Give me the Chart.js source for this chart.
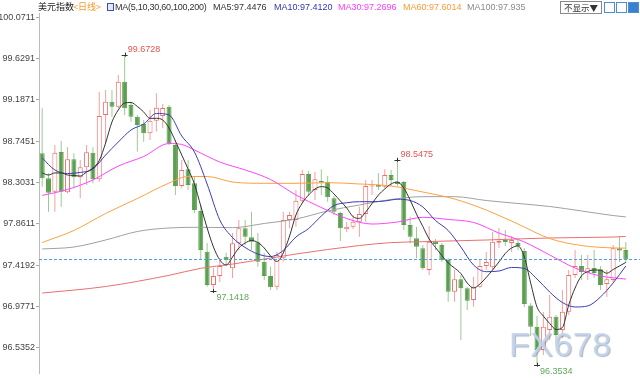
<!DOCTYPE html>
<html><head><meta charset="utf-8">
<script src="https://cdn.jsdelivr.net/npm/chart.js"></script>
<style>
html,body{margin:0;padding:0;background:#fff;}
#wrap{position:relative;width:640px;height:380px;overflow:hidden;font-family:'Liberation Sans',Arial,'Noto Sans CJK SC',sans-serif;}
#c{position:absolute;left:0;top:0;}
#hdr{position:absolute;left:0;top:0;width:640px;height:13px;background:#fff;}
#hdr span{position:absolute;top:1px;font-size:9px;line-height:12px;white-space:nowrap;}
#hdr .ico{top:3px;width:5px;height:6px;border:1px solid #3b4fae;background:#e3e7ff;}
#hdr #dd{left:560px;top:1px;width:40px;height:11px;line-height:11px;border:1px solid #8a8a8a;color:#333;text-align:center;font-family:'Noto Sans CJK SC',sans-serif;font-size:8.5px;}
#hdr .ib{top:2px;width:9px;height:9px;border:1px solid #4a8fd8;background:#fff;}
#hdr .ib.f{background:#3a7fd0;}
#wm{position:absolute;left:509px;top:325px;font-family:'Liberation Sans',Arial,sans-serif;font-size:34px;color:rgba(196,213,236,0.9);text-shadow:1px 1px 1px rgba(110,120,140,0.55);letter-spacing:0.5px;}
</style></head>
<body>
<div id="wrap">
<canvas id="c" width="640" height="380"></canvas>
<div id="hdr">
<span style="left:38px;color:#222;font-family:'Noto Sans CJK SC',sans-serif">美元指数</span>
<span style="left:73px;color:#f39a2c;font-family:'Noto Sans CJK SC',sans-serif">&lt;日线&gt;</span>
<span class="ico" style="left:107px"></span>
<span style="left:115px;color:#333;letter-spacing:-0.25px">MA(5,10,30,60,100,200)</span>
<span style="left:213px;color:#333">MA5:97.4476</span>
<span style="left:274px;color:#3434b4">MA10:97.4120</span>
<span style="left:338px;color:#ff3cff">MA30:97.2696</span>
<span style="left:403px;color:#ff9b35">MA60:97.6014</span>
<span style="left:467px;color:#8a8a8a">MA100:97.935</span>
<span id="dd">不显示▼</span>
<span class="ib" style="left:604px"></span>
<span class="ib" style="left:616px"></span>
<span class="ib f" style="left:628px"></span>
</div>
<div id="wm">FX678</div>
</div>
<script>
// ---- data ----
const opens = [98.617,98.349,98.205,98.630,98.199,98.552,98.359,98.466,98.623,98.338,
99.026,99.169,99.115,99.383,99.133,99.008,98.930,98.831,98.966,99.016,
99.115,98.705,98.266,98.445,98.295,97.999,97.563,97.206,97.303,97.509,
97.385,97.653,97.813,97.717,97.663,97.456,97.303,97.188,97.492,97.902,
97.902,98.109,98.395,98.224,98.323,98.312,98.135,97.977,97.803,97.831,
97.884,97.966,98.261,98.277,98.259,98.384,98.312,98.309,97.849,97.706,
97.599,97.367,97.670,97.635,97.474,97.135,97.267,97.171,97.046,97.188,
97.410,97.396,97.659,97.688,97.656,97.656,97.570,96.987,96.760,96.510,
96.725,96.867,96.725,96.920,97.313,97.410,97.332,97.388,97.374,97.217,
97.260,97.599,97.581];
const highs = [99.098,98.402,98.705,98.748,98.681,98.617,98.545,98.705,98.681,99.276,
99.294,99.294,99.455,99.6728,99.169,99.026,98.973,99.080,99.259,99.144,
99.133,98.759,98.545,98.545,98.373,98.063,97.656,97.388,97.495,97.552,
97.763,97.902,97.902,97.991,97.763,97.549,97.402,97.563,97.991,97.991,
98.224,98.438,98.427,98.419,98.445,98.373,98.159,97.991,97.881,97.956,
98.045,98.331,98.331,98.402,98.445,98.438,98.5475,98.320,97.938,97.831,
97.635,97.838,97.699,97.656,97.495,97.367,97.313,97.188,97.295,97.485,
97.560,97.774,97.817,97.795,97.731,97.688,97.602,97.013,96.874,96.917,
97.099,96.885,97.153,97.367,97.581,97.528,97.528,97.581,97.410,97.367,
97.635,97.731,97.667];
const lows = [98.259,97.990,97.990,98.045,98.188,98.242,98.135,98.277,98.295,98.312,
98.723,99.008,99.098,99.026,98.955,98.633,98.741,98.759,98.848,98.887,
98.705,98.170,98.242,98.224,97.977,97.474,97.188,97.1418,97.238,97.421,
97.281,97.581,97.635,97.581,97.402,97.260,97.153,97.153,97.456,97.813,
97.831,98.084,98.170,98.116,98.170,98.098,97.956,97.677,97.774,97.806,
97.724,97.884,98.170,98.224,98.242,98.266,98.266,97.795,97.653,97.492,
97.367,97.313,97.581,97.452,97.028,97.028,96.618,96.939,96.974,97.174,
97.367,97.367,97.602,97.624,97.560,97.581,96.971,96.660,96.3534,96.457,
96.618,96.564,96.639,96.885,97.281,97.260,97.260,97.281,97.153,97.078,
97.238,97.453,97.442];
const closes = [98.349,98.195,98.623,98.205,98.552,98.359,98.466,98.627,98.338,99.016,
99.169,99.115,99.383,99.098,99.008,98.919,98.831,98.966,99.105,99.101,
98.723,98.266,98.438,98.277,98.009,97.581,97.206,97.303,97.410,97.474,
97.653,97.813,97.724,97.670,97.456,97.303,97.182,97.528,97.902,97.956,
98.109,98.395,98.205,98.338,98.304,98.145,97.991,97.813,97.831,97.884,
97.966,98.266,98.272,98.259,98.384,98.331,98.288,97.849,97.724,97.616,
97.385,97.670,97.645,97.474,97.135,97.267,97.171,97.038,97.188,97.410,
97.453,97.670,97.680,97.667,97.688,97.624,97.003,96.760,96.510,96.760,
96.867,96.671,96.920,97.313,97.410,97.346,97.385,97.335,97.206,97.267,
97.599,97.576,97.480];
const candleNo = opens.map((_, i) => i + 1);

const ma5 = [98.406,98.384,98.406,98.406,98.384,98.379,98.373,98.416,98.459,98.539,
98.727,98.952,99.080,99.155,99.160,99.118,99.059,98.991,98.991,98.973,
98.887,98.748,98.598,98.448,98.288,98.052,97.817,97.613,97.474,97.420,
97.506,97.603,97.656,97.683,97.661,97.603,97.517,97.458,97.549,97.731,
97.956,98.084,98.170,98.234,98.259,98.245,98.181,98.106,98.031,97.938,
97.920,97.988,98.079,98.170,98.234,98.288,98.309,98.245,98.116,97.966,
97.833,97.699,97.608,97.522,97.442,97.388,97.329,97.228,97.174,97.217,
97.287,97.367,97.453,97.544,97.603,97.624,97.506,97.228,96.971,96.874,
96.794,96.730,96.751,96.992,97.174,97.303,97.351,97.367,97.364,97.332,
97.372,97.410,97.448];
const ma10Idx = [0,2,4,6,8,10,12,14,16,18,20,22,24,26,28,30,32,34,36,38,40,42,44,46,48,50,52,54,56,58,60,62,64,66,68,70,72,74,76,78,80,82,84,86,88,90,92];
const ma10Val = [98.566,98.438,98.400,98.411,98.448,98.598,98.737,98.866,98.930,99.043,
99.027,98.802,98.630,98.288,97.902,97.715,97.608,97.538,97.511,97.576,
97.720,97.811,97.945,98.057,98.087,98.098,98.098,98.106,98.124,98.111,
98.042,97.897,97.790,97.613,97.420,97.349,97.356,97.394,97.383,97.271,
97.131,97.019,96.971,96.982,97.078,97.228,97.410];
const ma30Idx = [0,4,8,12,16,20,22,24,28,32,36,40,44,48,52,56,60,64,68,72,76,80,84,88,92];
const ma30Val = [98.165,98.229,98.331,98.480,98.582,98.721,98.711,98.652,98.523,98.438,98.336,98.170,98.036,97.918,97.859,97.881,97.931,97.908,97.876,97.763,97.667,97.528,97.388,97.303,97.270];
const ma60Idx = [0,5,10,15,20,23,26,30,35,40,45,50,55,60,65,70,75,80,85,90,92];
const ma60Val = [97.661,97.790,97.972,98.132,98.298,98.368,98.368,98.309,98.295,98.295,98.302,98.288,98.266,98.202,98.127,98.009,97.859,97.704,97.629,97.603,97.601];
const ma100Idx = [0,5,10,15,20,25,30,35,40,45,50,55,60,65,70,75,80,85,90,92];
const ma100Val = [97.592,97.613,97.688,97.779,97.817,97.824,97.820,97.865,97.913,97.999,98.063,98.122,98.152,98.152,98.111,98.079,98.047,97.999,97.950,97.935];
const ma200Idx = [0,10,20,25,30,40,50,55,60,70,80,90,92];
const ma200Val = [97.120,97.190,97.310,97.385,97.430,97.538,97.629,97.660,97.670,97.688,97.710,97.720,97.726];

const yTicks = [96.5352,96.9771,97.4192,97.8611,98.3031,98.7451,99.1871,99.6291,100.0711];
const yMin = 96.2641, yMax = 100.1507;
const highMarks = [13, 56];
const lowMarks = [27, 78];

// ---- build ----
const N = closes.length;
function sparse(idx, vals) { const a = new Array(N).fill(null); idx.forEach((k, j) => a[k] = vals[j]); return a; }
const RED = '#ee6c6a', RED_W = '#f3a09e', GREEN = '#5b9f50', GREEN_W = '#9cc994';
const isUp = opens.map((o, i) => closes[i] >= o);
const bodies = opens.map((o, i) => [o, closes[i]]);
const wicks = lows.map((l, i) => [l, highs[i]]);

function lineDs(data, color, order, tension) {
  return { type: 'line', data, borderColor: color, borderWidth: 1, pointRadius: 0, spanGaps: true,
    tension: tension, cubicInterpolationMode: tension ? 'monotone' : 'default', order };
}

const marksPlugin = {
  id: 'marks',
  afterDatasetsDraw(chart) {
    const { ctx, chartArea, scales: { x, y } } = chart;
    ctx.save();
    const yl = Math.round(y.getPixelForValue(closes[N - 1])) + 0.5;
    ctx.strokeStyle = '#4f9ee8'; ctx.lineWidth = 1; ctx.setLineDash([3, 2]);
    ctx.beginPath(); ctx.moveTo(chartArea.left, yl); ctx.lineTo(chart.width, yl); ctx.stroke();
    ctx.setLineDash([]);
    ctx.font = '9px "Liberation Sans", Arial, sans-serif';
    ctx.textBaseline = 'middle'; ctx.textAlign = 'left';
    const cross = (px, py) => {
      ctx.strokeStyle = '#333'; ctx.beginPath();
      ctx.moveTo(px - 3, Math.round(py) + 0.5); ctx.lineTo(px + 3, Math.round(py) + 0.5);
      ctx.moveTo(Math.round(px) + 0.5, py - 2); ctx.lineTo(Math.round(px) + 0.5, py + 2);
      ctx.stroke();
    };
    highMarks.forEach(i => {
      const px = x.getPixelForValue(i), py = y.getPixelForValue(highs[i]);
      cross(px, py);
      ctx.fillStyle = '#e8534f'; ctx.fillText(highs[i].toFixed(4), px + 3, py - 5);
    });
    lowMarks.forEach(i => {
      const px = x.getPixelForValue(i), py = y.getPixelForValue(lows[i]);
      cross(px, py);
      ctx.fillStyle = '#62a85a'; ctx.fillText(lows[i].toFixed(4), px + 3, py + 6.5);
    });
    ctx.restore();
  }
};

new Chart(document.getElementById('c'), {
  type: 'bar',
  data: {
    labels: candleNo,
    datasets: [
      lineDs(ma5, '#333333', 0, 0.2),
      lineDs(sparse(ma10Idx, ma10Val), '#3c3cb8', 0, 0.4),
      lineDs(sparse(ma30Idx, ma30Val), '#ff44ff', 0, 0.4),
      lineDs(sparse(ma60Idx, ma60Val), '#ffa040', 0, 0.4),
      lineDs(sparse(ma100Idx, ma100Val), '#a0a0a0', 0, 0.4),
      lineDs(sparse(ma200Idx, ma200Val), '#e87070', 0, 0.4),
      { type: 'bar', data: bodies, grouped: false, barThickness: 5, order: 2, borderWidth: 1, borderSkipped: false,
        inflateAmount: 0, minBarLength: 1,
        backgroundColor: isUp.map(u => u ? '#ffffff' : GREEN), borderColor: isUp.map(u => u ? RED : GREEN) },
      { type: 'bar', data: wicks, grouped: false, barThickness: 1, order: 3, borderWidth: 0, inflateAmount: 0,
        backgroundColor: isUp.map(u => u ? RED_W : GREEN_W) }
    ]
  },
  options: {
    responsive: false, animation: false, devicePixelRatio: 1,
    layout: { padding: { left: 0, right: 11, top: 10, bottom: 7 } },
    plugins: { legend: { display: false }, tooltip: { enabled: false } },
    scales: {
      x: { display: false, offset: true, grid: { display: false } },
      y: {
        min: yMin, max: yMax,
        afterFit: s => { s.width = 39; },
        afterBuildTicks: s => { s.ticks = yTicks.map(v => ({ value: v })); },
        ticks: { callback: v => Number(v).toFixed(4), font: { size: 9, family: '"Liberation Sans", Arial, sans-serif' }, color: '#444', padding: 1, autoSkip: false },
        grid: { drawOnChartArea: false, drawTicks: true, tickLength: 3, color: '#aaa' },
        border: { display: true, dash: [1, 2], color: '#bbb' }
      }
    }
  },
  plugins: [marksPlugin]
});
</script>
</body></html>
